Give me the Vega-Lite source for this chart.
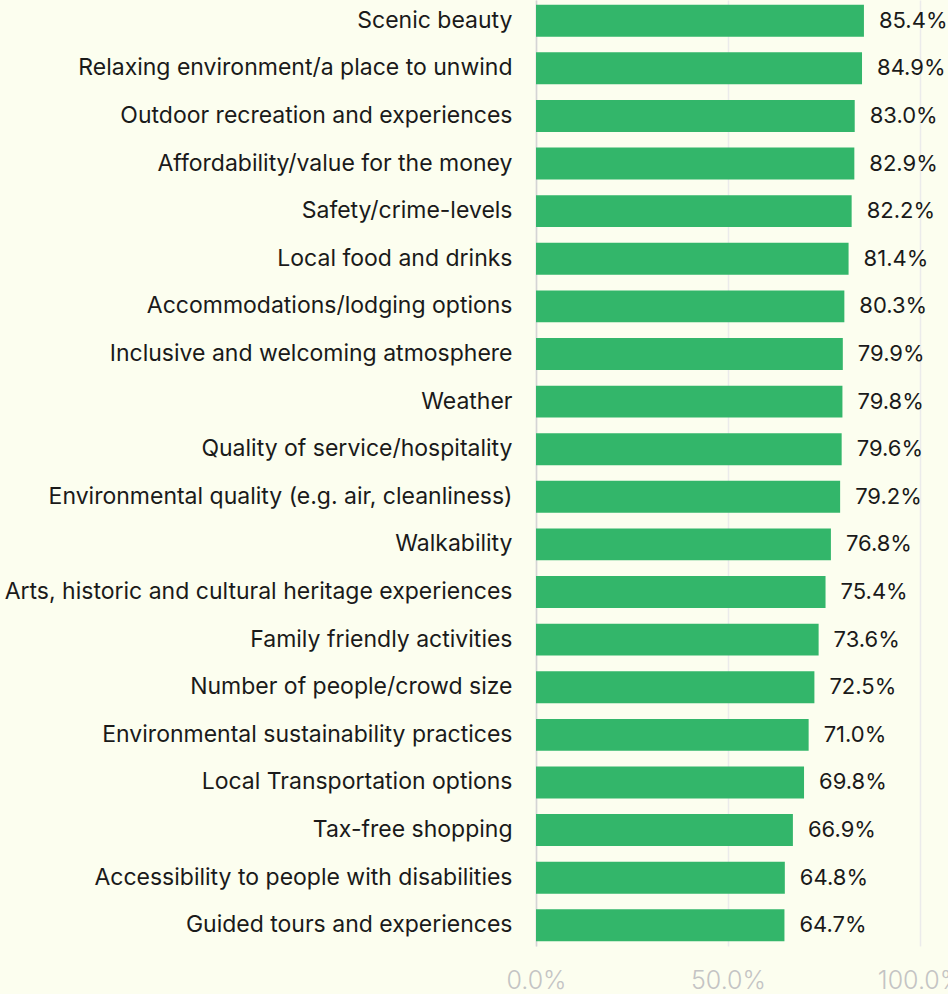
{
  "$schema": "https://vega.github.io/schema/vega-lite/v6.json",
  "autosize": "none",
  "width": 384,
  "height": 946,
  "padding": {"left": 536, "top": 0, "right": 28, "bottom": 48},
  "background": "#FCFEEF",
  "config": {
    "view": {"stroke": null},
    "font": "Inter"
  },
  "data": {
    "values": [
      {"category": "Scenic beauty", "value": 0.854},
      {"category": "Relaxing environment/a place to unwind", "value": 0.849},
      {"category": "Outdoor recreation and experiences", "value": 0.830},
      {"category": "Affordability/value for the money", "value": 0.829},
      {"category": "Safety/crime-levels", "value": 0.822},
      {"category": "Local food and drinks", "value": 0.814},
      {"category": "Accommodations/lodging options", "value": 0.803},
      {"category": "Inclusive and welcoming atmosphere", "value": 0.799},
      {"category": "Weather", "value": 0.798},
      {"category": "Quality of service/hospitality", "value": 0.796},
      {"category": "Environmental quality (e.g. air, cleanliness)", "value": 0.792},
      {"category": "Walkability", "value": 0.768},
      {"category": "Arts, historic and cultural heritage experiences", "value": 0.754},
      {"category": "Family friendly activities", "value": 0.736},
      {"category": "Number of people/crowd size", "value": 0.725},
      {"category": "Environmental sustainability practices", "value": 0.710},
      {"category": "Local Transportation options", "value": 0.698},
      {"category": "Tax-free shopping", "value": 0.669},
      {"category": "Accessibility to people with disabilities", "value": 0.648},
      {"category": "Guided tours and experiences", "value": 0.647}
    ]
  },
  "encoding": {
    "y": {
      "field": "category",
      "type": "nominal",
      "sort": null,
      "title": null,
      "scale": {"paddingInner": 0.33, "paddingOuter": 0.1},
      "axis": {
        "domain": true,
        "domainColor": "#d4d4d4",
        "domainWidth": 1.5,
        "ticks": false,
        "labelPadding": 24,
        "labelFontSize": 23,
        "labelColor": "#1a1a1a",
        "labelLimit": 600
      }
    },
    "x": {
      "field": "value",
      "type": "quantitative",
      "title": null,
      "scale": {"domain": [0, 1]},
      "axis": {
        "values": [0, 0.5, 1],
        "format": ".1%",
        "domain": false,
        "ticks": false,
        "grid": true,
        "gridColor": "#ebebeb",
        "gridWidth": 1.5,
        "labelFontSize": 25,
        "labelFontWeight": 300,
        "labelColor": "#c4c4c4",
        "labelPadding": 22,
        "labelDx": -7,
        "labelFlush": false
      }
    }
  },
  "layer": [
    {"mark": {"type": "bar", "color": "#33B66A"}},
    {
      "mark": {"type": "text", "align": "left", "dx": 15, "fontSize": 22, "color": "#1a1a1a"},
      "encoding": {"text": {"field": "value", "format": ".1%"}}
    }
  ]
}
